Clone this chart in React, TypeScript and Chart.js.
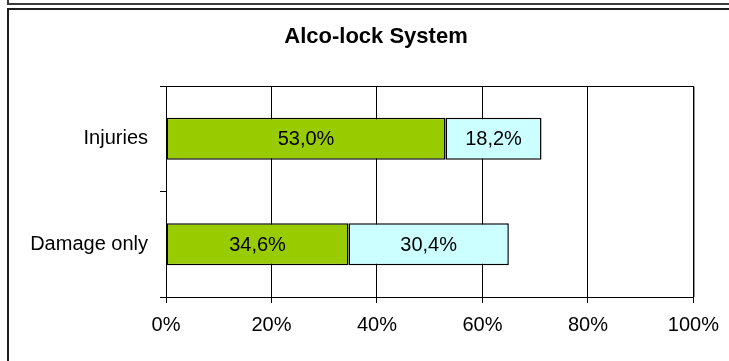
import { useEffect, useRef } from "react";
import { Chart, registerables } from "chart.js";

Chart.register(...registerables);

// Shares of accidents, in percent
const categories = ["Injuries", "Damage only"];
const firstShare = [53.0, 34.6];
const secondShare = [18.2, 30.4];
const xTickValues = [0, 20, 40, 60, 80, 100];
const chartTitle = "Alco-lock System";

const FONT = '"Liberation Sans", Arial, Helvetica, sans-serif';
const W = 729;
const H = 361;

const formatPct = (v: number) => v.toFixed(1).replace(".", ",") + "%";

// Paints the white page, the two frame edges, the plot-area border,
// the bold title and the value labels inside each bar segment.
const decorPlugin = {
  id: "decor",
  beforeDraw(chart: any) {
    const ctx = chart.ctx;
    ctx.save();
    ctx.fillStyle = "#ffffff";
    ctx.fillRect(0, 0, W, H);
    // lower edge of the frame above
    ctx.fillStyle = "#3a3a3a";
    ctx.fillRect(7, 3, W - 7, 2);
    ctx.fillRect(7, 0, 2, 5);
    // frame around this chart
    ctx.fillStyle = "#1e1e1e";
    ctx.fillRect(7, 8, W - 7, 2);
    ctx.fillRect(7, 8, 2, H - 8);
    ctx.restore();
  },
  afterDraw(chart: any) {
    const ctx = chart.ctx;
    const area = chart.chartArea;
    ctx.save();
    // plot-area border (top and right)
    ctx.strokeStyle = "#000000";
    ctx.lineWidth = 1;
    ctx.beginPath();
    ctx.moveTo(area.left, area.top + 0.5);
    ctx.lineTo(area.right + 0.5, area.top + 0.5);
    ctx.lineTo(area.right + 0.5, area.bottom);
    ctx.stroke();

    // title
    ctx.fillStyle = "#000000";
    ctx.font = `bold 22px ${FONT}`;
    ctx.textAlign = "center";
    ctx.textBaseline = "alphabetic";
    ctx.fillText(chartTitle, 376, 43);

    // value labels
    ctx.font = `20px ${FONT}`;
    ctx.textBaseline = "middle";
    chart.data.datasets.forEach((ds: any, di: number) => {
      const meta = chart.getDatasetMeta(di);
      meta.data.forEach((el: any, i: number) => {
        const p = el.getProps(["x", "y", "base"], true);
        ctx.fillText(formatPct(ds.data[i]), (p.x + p.base) / 2, p.y + 1);
      });
    });
    ctx.restore();
  },
};

export default function App() {
  const canvasRef = useRef<HTMLCanvasElement | null>(null);

  useEffect(() => {
    const canvas = canvasRef.current;
    if (!canvas) return;
    const chart = new Chart(canvas, {
      type: "bar",
      data: {
        labels: categories,
        datasets: [
          {
            data: firstShare,
            backgroundColor: "#99cc00",
            borderColor: "#000000",
            borderWidth: 1.5,
            borderSkipped: false,
            categoryPercentage: 1,
            barPercentage: 0.4,
          },
          {
            data: secondShare,
            backgroundColor: "#ccffff",
            borderColor: "#000000",
            borderWidth: 1.5,
            borderSkipped: false,
            categoryPercentage: 1,
            barPercentage: 0.4,
          },
        ],
      },
      plugins: [decorPlugin],
      options: {
        indexAxis: "y",
        responsive: false,
        animation: false,
        devicePixelRatio: 1,
        layout: { padding: { left: 0, right: W - 695, top: 86, bottom: 0 } },
        plugins: {
          legend: { display: false },
          tooltip: { enabled: false },
          title: { display: false },
        },
        scales: {
          x: {
            type: "linear",
            stacked: true,
            min: 0,
            max: 100,
            afterBuildTicks: (scale: any) => {
              scale.ticks = xTickValues.map((v) => ({ value: v }));
            },
            afterFit: (scale: any) => {
              scale.height = H - 297;
            },
            grid: {
              color: "#000000",
              lineWidth: 1,
              drawTicks: true,
              tickLength: 6,
            },
            border: { display: true, color: "#000000", width: 1 },
            ticks: {
              color: "#000000",
              font: { family: FONT, size: 20 },
              padding: 10,
              maxRotation: 0,
              callback: (v: any) => v + "%",
            },
          },
          y: {
            type: "category",
            stacked: true,
            offset: true,
            afterFit: (scale: any) => {
              scale.width = 166;
            },
            grid: {
              offset: true,
              drawOnChartArea: false,
              drawTicks: true,
              tickLength: 6,
              color: "#000000",
            },
            border: { display: true, color: "#000000", width: 1 },
            ticks: {
              color: "#000000",
              font: { family: FONT, size: 20 },
              padding: 12,
            },
          },
        },
      },
    } as any);
    return () => chart.destroy();
  }, []);

  return (
    <div
      style={{
        position: "fixed",
        left: 0,
        top: 0,
        width: W,
        height: H,
        background: "#ffffff",
      }}
    >
      <canvas ref={canvasRef} width={W} height={H} style={{ display: "block" }} />
    </div>
  );
}
